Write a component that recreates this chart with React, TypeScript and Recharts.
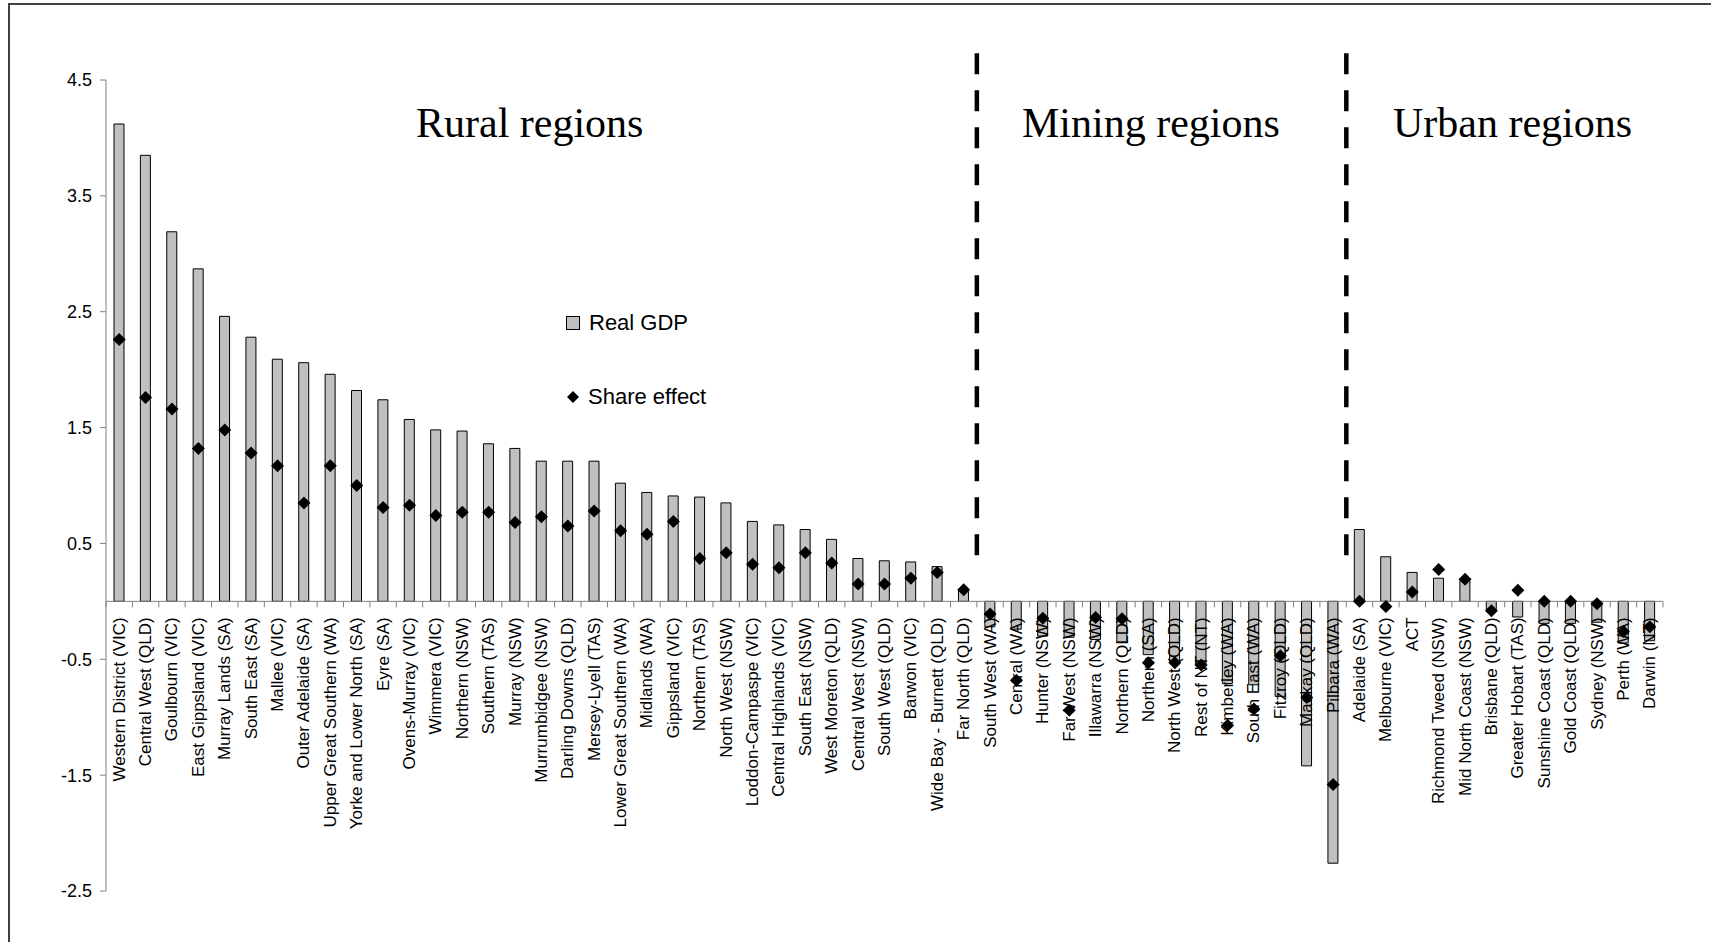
import React from 'react';
import { ComposedChart, Bar, Line, XAxis, YAxis, ReferenceLine } from 'recharts';

const categories = [
  'Western District (VIC)', 'Central West (QLD)', 'Goulbourn (VIC)', 'East Gippsland (VIC)', 'Murray Lands (SA)',
  'South East (SA)', 'Mallee (VIC)', 'Outer Adelaide (SA)', 'Upper Great Southern (WA)', 'Yorke and Lower North (SA)',
  'Eyre (SA)', 'Ovens-Murray (VIC)', 'Wimmera (VIC)', 'Northern (NSW)', 'Southern (TAS)', 'Murray (NSW)',
  'Murrumbidgee (NSW)', 'Darling Downs (QLD)', 'Mersey-Lyell (TAS)', 'Lower Great Southern (WA)', 'Midlands (WA)',
  'Gippsland (VIC)', 'Northern (TAS)', 'North West (NSW)', 'Loddon-Campaspe (VIC)', 'Central Highlands (VIC)',
  'South East (NSW)', 'West Moreton (QLD)', 'Central West (NSW)', 'South West (QLD)', 'Barwon (VIC)',
  'Wide Bay - Burnett (QLD)', 'Far North (QLD)',
  'South West (WA)', 'Central (WA)', 'Hunter (NSW)', 'Far West (NSW)', 'Illawarra (NSW)', 'Northern (QLD)',
  'Northern (SA)', 'North West (QLD)', 'Rest of NT (NT)', 'Kimberley (WA)', 'South East (WA)', 'Fitzroy (QLD)',
  'Mackay (QLD)', 'Pilbara (WA)',
  'Adelaide (SA)', 'Melbourne (VIC)', 'ACT', 'Richmond Tweed (NSW)', 'Mid North Coast (NSW)', 'Brisbane (QLD)',
  'Greater Hobart (TAS)', 'Sunshine Coast (QLD)', 'Gold Coast (QLD)', 'Sydney (NSW)', 'Perth (WA)', 'Darwin (NT)',
];

const realGdp = [
  4.12, 3.85, 3.19, 2.87, 2.46, 2.28, 2.09, 2.06, 1.96, 1.82, 1.74, 1.57, 1.48, 1.47, 1.36, 1.32,
  1.21, 1.21, 1.21, 1.02, 0.94, 0.91, 0.9, 0.85, 0.69, 0.66, 0.62, 0.535, 0.37, 0.35, 0.34, 0.3, 0.09,
  -0.22, -0.24, -0.3, -0.31, -0.33, -0.35, -0.46, -0.52, -0.55, -0.71, -0.72, -0.82, -1.42, -2.26,
  0.62, 0.385, 0.25, 0.2, 0.18, -0.07, -0.135, -0.19, -0.19, -0.18, -0.36, -0.34,
];

const shareEffect = [
  2.26, 1.76, 1.66, 1.32, 1.48, 1.28, 1.17, 0.85, 1.17, 1.0, 0.81, 0.83, 0.74, 0.77, 0.77, 0.68,
  0.73, 0.65, 0.78, 0.61, 0.58, 0.69, 0.37, 0.42, 0.32, 0.29, 0.42, 0.33, 0.15, 0.15, 0.2, 0.25, 0.1,
  -0.11, -0.68, -0.145, -0.94, -0.14, -0.15, -0.53, -0.53, -0.55, -1.07, -0.93, -0.47, -0.83, -1.58,
  0.0, -0.045, 0.08, 0.275, 0.19, -0.08, 0.095, 0.0, 0.0, -0.02, -0.26, -0.22,
];

const yTicks = [-2.5, -1.5, -0.5, 0.5, 1.5, 2.5, 3.5, 4.5];
const Y_MIN = -2.5;
const Y_MAX = 4.5;

const regionTitles = ['Rural regions', 'Mining regions', 'Urban regions'];
// last category of each group before a dashed divider
const regionLastCategories = ['Far North (QLD)', 'Pilbara (WA)'];
const legendLabels = ['Real GDP', 'Share effect'];

const data = categories.map((name, i) => ({ name, gdp: realGdp[i], share: shareEffect[i] }));

const W = 1711;
const H = 942;
const MARGIN = { top: 80, right: 48, bottom: 50, left: 46 };
const YAXIS_W = 60;
const XAXIS_H = 1;
const PLOT_W = W - MARGIN.left - MARGIN.right - YAXIS_W;
const PLOT_H = H - MARGIN.top - MARGIN.bottom - XAXIS_H;
const ZERO_Y = MARGIN.top + (PLOT_H * Y_MAX) / (Y_MAX - Y_MIN);

const SANS = '"Liberation Sans", Arial, sans-serif';
const SERIF = '"Liberation Serif", "Times New Roman", serif';
const AXIS_GRAY = '#808080';

const CategoryTick = (props: any) => {
  const { x, payload, index } = props;
  const step = PLOT_W / categories.length;
  const last = index === categories.length - 1;
  return (
    <g>
      <line x1={x - step / 2} x2={x - step / 2} y1={ZERO_Y} y2={ZERO_Y + 6} stroke={AXIS_GRAY} strokeWidth={1} />
      {last && (
        <line x1={x + step / 2} x2={x + step / 2} y1={ZERO_Y} y2={ZERO_Y + 6} stroke={AXIS_GRAY} strokeWidth={1} />
      )}
      <text
        transform={`translate(${x},${ZERO_Y + 16}) rotate(-90)`}
        textAnchor="end"
        dominantBaseline="central"
        fontSize={17}
        fontFamily={SANS}
        fill="#000"
      >
        {payload.value}
      </text>
    </g>
  );
};

const Diamond = (props: any) => {
  const { cx, cy, index } = props;
  if (cx == null || cy == null) return <g key={index} />;
  const r = 6.5;
  return (
    <path
      key={index}
      d={`M${cx},${cy - r}L${cx + r},${cy}L${cx},${cy + r}L${cx - r},${cy}Z`}
      fill="#000"
      stroke="none"
    />
  );
};

const LegendBox = () => (
  <div style={{ position: 'absolute', left: 566, top: 309, fontFamily: SANS, fontSize: 22, color: '#000' }}>
    <div style={{ display: 'flex', alignItems: 'center', height: 28 }}>
      <span
        style={{
          display: 'inline-block',
          width: 12,
          height: 12,
          background: '#c0c0c0',
          border: '1px solid #000',
          marginRight: 9,
        }}
      />
      <span>{legendLabels[0]}</span>
    </div>
    <div style={{ display: 'flex', alignItems: 'center', height: 28, marginTop: 46 }}>
      <svg width={14} height={14} style={{ marginRight: 8 }}>
        <path d="M7,1L13,7L7,13L1,7Z" fill="#000" />
      </svg>
      <span>{legendLabels[1]}</span>
    </div>
  </div>
);

export default function App() {
  return (
    <div style={{ position: 'absolute', left: 0, top: 0, width: W, height: H, background: '#fff', overflow: 'hidden' }}>
      <div
        style={{
          position: 'absolute',
          left: 8,
          top: 3,
          width: W + 20,
          height: H + 20,
          borderLeft: '2px solid #404040',
          borderTop: '2px solid #404040',
        }}
      />
      <div style={{ position: 'absolute', left: 0, top: 0 }}>
        <ComposedChart width={W} height={H} data={data} margin={MARGIN}>
          <XAxis
            dataKey="name"
            interval={0}
            tick={<CategoryTick />}
            axisLine={false}
            tickLine={false}
            height={XAXIS_H}
          />
          <YAxis
            domain={[Y_MIN, Y_MAX]}
            ticks={yTicks}
            interval={0}
            allowDataOverflow
            width={YAXIS_W}
            stroke={AXIS_GRAY}
            tickSize={6}
            tickMargin={8}
            tick={{ fill: '#000', fontSize: 18, fontFamily: SANS }}
          />
          <ReferenceLine y={0} stroke={AXIS_GRAY} strokeWidth={1} />
          <Bar dataKey="gdp" fill="#c0c0c0" stroke="#000" strokeWidth={1} barSize={10} isAnimationActive={false} />
          <Line
            dataKey="share"
            stroke="none"
            dot={(p: any) => <Diamond {...p} />}
            activeDot={false}
            isAnimationActive={false}
          />
          {regionLastCategories.map((c) => (
            <ReferenceLine
              key={c}
              position="end"
              segment={[
                { x: c, y: 4.73 },
                { x: c, y: 0.36 },
              ]}
              stroke="#000"
              strokeWidth={4.5}
              strokeDasharray="21 16"
              ifOverflow="visible"
            />
          ))}
        </ComposedChart>
      </div>
      <LegendBox />
      <svg width={W} height={H} style={{ position: 'absolute', left: 0, top: 0, pointerEvents: 'none' }}>
        <text x={416} y={137} fontFamily={SERIF} fontSize={42} fill="#000">{regionTitles[0]}</text>
        <text x={1022} y={137} fontFamily={SERIF} fontSize={42} fill="#000">{regionTitles[1]}</text>
        <text x={1393} y={137} fontFamily={SERIF} fontSize={42} fill="#000">{regionTitles[2]}</text>
      </svg>
    </div>
  );
}
